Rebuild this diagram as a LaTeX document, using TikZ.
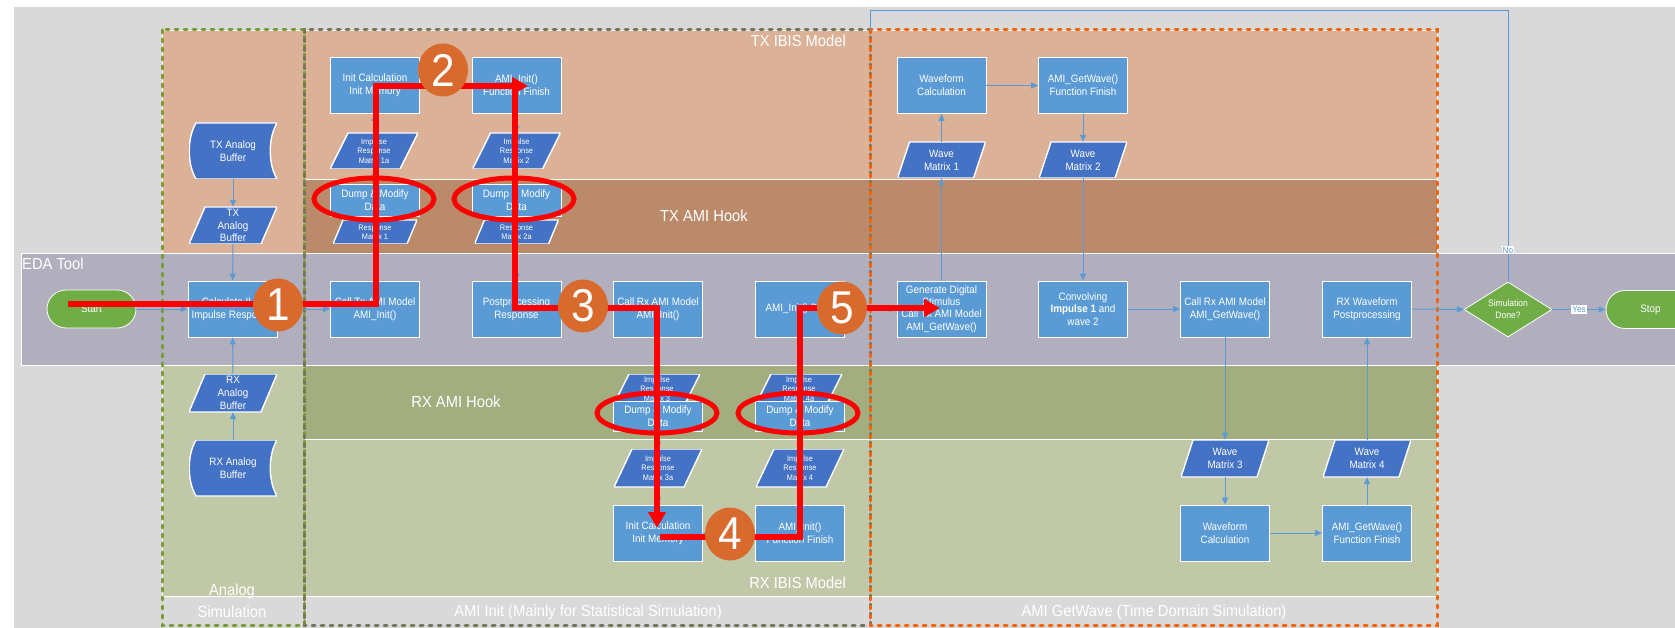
\documentclass[tikz,border=0pt]{standalone}
\usepackage{fontspec}
\setmainfont{Liberation Sans}[FakeStretch=0.92]
\usetikzlibrary{shapes.geometric,arrows.meta,calc}

\definecolor{bggray}{HTML}{D9D9D9}
\definecolor{edalane}{HTML}{B1AFBD}
\definecolor{txlane}{HTML}{DBB197}
\definecolor{txhook}{HTML}{BA8A6A}
\definecolor{rxhook}{HTML}{A2AD80}
\definecolor{rxlane}{HTML}{C0C8A7}
\definecolor{procblue}{HTML}{5B9BD5}
\definecolor{datablue}{HTML}{4472C4}
\definecolor{flowgreen}{HTML}{70AD47}
\definecolor{markorange}{HTML}{D96A2E}
\definecolor{linkblue}{HTML}{5B9BD5}
\definecolor{dashgreen}{HTML}{7A9A34}
\definecolor{dashgray}{HTML}{75755A}
\definecolor{dashorange}{HTML}{F0640A}

\newcommand\fs[2]{\fontsize{#1}{#2}\selectfont}

\begin{document}
\begin{tikzpicture}[x=1pt,y=-1pt,
  txt/.style={text=white, align=center, font=\fs{10.7}{12.8}},
  proc/.style={txt, rectangle, fill=procblue, draw=white, line width=0.8pt,
    minimum width=89pt, minimum height=56pt, inner sep=1pt},
  hookbox/.style={proc, minimum height=32pt},
  para/.style args={#1/#2/#3}{txt, rectangle, minimum width=#1pt, minimum height=#2pt, inner sep=0pt,
    path picture={\filldraw[fill=datablue, draw=white, line width=1.4pt]
      (path picture bounding box.south west)
      -- ($(path picture bounding box.north west)+(#3,0)$)
      -- (path picture bounding box.north east)
      -- ($(path picture bounding box.south east)+(-#3,0)$) -- cycle;}},
  smallpara/.style={para=#1, font=\fs{8}{9.3}},
  stored/.style={txt, rectangle, minimum width=88pt, minimum height=56pt, inner sep=0pt,
    path picture={\filldraw[fill=datablue, draw=white, line width=1.4pt]
      ($(path picture bounding box.north west)+(7,0)$)
      -- (path picture bounding box.north east)
      .. controls ($(path picture bounding box.north east)+(-9,15)$)
         and ($(path picture bounding box.south east)+(-9,-15)$)
      .. (path picture bounding box.south east)
      -- ($(path picture bounding box.south west)+(7,0)$)
      .. controls ($(path picture bounding box.south west)+(-2,-15)$)
         and ($(path picture bounding box.north west)+(-2,15)$)
      .. ($(path picture bounding box.north west)+(7,0)$) -- cycle;}},
  pill/.style={txt, rectangle, rounded corners=19pt, fill=flowgreen, draw=white,
    line width=0.8pt, minimum width=89pt, minimum height=38pt},
  decision/.style={txt, diamond, fill=flowgreen, draw=white, line width=0.8pt,
    minimum width=88pt, minimum height=55pt, inner sep=0pt, aspect=1.6, font=\fs{9.3}{12}},
  marker/.style={ellipse, fill=markorange, minimum width=50pt, minimum height=53pt,
    inner sep=0pt, text=white, font=\fs{46}{46}},
  ring/.style={ellipse, draw=red, line width=5pt, minimum width=120pt,
    minimum height=42pt, inner sep=0pt},
  link/.style={draw=linkblue, line width=1pt, -{Triangle[length=7pt,width=6pt]}},
  redflow/.style={draw=red, line width=5.5pt, -{Triangle[length=16pt,width=17pt]}},
  lanelabel/.style={text=white, font=\fs{16}{22}, inner sep=2pt, align=center},
  tag/.style={fill=white, text=linkblue, font=\fs{9}{10}, inner sep=1pt},
  phase/.style={line width=3pt, dash pattern=on 3pt off 6pt, line cap=round},
  lane/.style={draw=white, line width=0.8pt}
]
\useasboundingbox (0,0) rectangle (1675,628);
\fill[white] (0,0) rectangle (1675,628);
\fill[bggray] (14,7) rectangle (1675,628);

% swim lanes
\filldraw[lane, fill=txlane] (162,30) rectangle (304,253);
\filldraw[lane, fill=txlane] (304,30) rectangle (1437,179);
\filldraw[lane, fill=txhook] (304,179) rectangle (1437,253);
\filldraw[lane, fill=rxlane] (162,365) rectangle (304,596);
\filldraw[lane, fill=rxhook] (304,365) rectangle (1437,439);
\filldraw[lane, fill=rxlane] (304,439) rectangle (1437,596);
\filldraw[lane, fill=edalane] (21,253) rectangle (1690,365);

% lane and phase captions
\node[lanelabel, anchor=west] (edalbl) at (20,264) {EDA Tool};
\node[lanelabel, anchor=east] (txibislbl) at (848,41) {TX IBIS Model};
\node[lanelabel] (txhooklbl) at (704,216) {TX AMI Hook};
\node[lanelabel] (rxhooklbl) at (456,402) {RX AMI Hook};
\node[lanelabel, anchor=east] (rxibislbl) at (848,583) {RX IBIS Model};
\node[lanelabel] (analoglbl) at (232,601) {Analog\\Simulation};
\node[lanelabel] (initlbl) at (588,612) {AMI Init (Mainly for Statistical Simulation)};
\node[lanelabel] (gwlbl) at (1154,612) {AMI GetWave (Time Domain Simulation)};

% phase frames
\draw[phase, dashgreen] (162,30) rectangle (304,625);
\draw[phase, dashgray] (304,30) rectangle (870,625);
\draw[phase, dashorange] (870,30) rectangle (1437,625);

% analog simulation
\node[pill] (start) at (91.5,309) {Start};
\node[proc] (calc) at (232.5,309) {Calculate IL \&\\Impulse Response};
\node[stored] (txstore) at (233,151) {TX Analog\\Buffer};
\node[para=88/37/16] (txbuf) at (233,225.5) {TX\\Analog\\Buffer};
\node[para=88/38/16] (rxbuf) at (233,393) {RX\\Analog\\Buffer};
\node[stored] (rxstore) at (233,468) {RX Analog\\Buffer};

% AMI init, transmitter
\node[proc] (txinit) at (375,85.5) {Init Calculation\\Init Memory};
\node[smallpara=88/36/18] (irm1a) at (374,151) {Impulse\\Response\\Matrix 1a};
\node[hookbox] (dump1) at (375,200) {Dump \& Modify\\Data};
\node[smallpara=84/24/10] (rm1) at (375,232) {Response\\Matrix 1};
\node[proc] (calltx) at (375,309) {Call Tx AMI Model\\AMI\_Init()};

\node[proc] (txfin) at (516.5,85.5) {AMI\_Init()\\Function Finish};
\node[smallpara=88/36/18] (irm2) at (516.5,151) {Impulse\\Response\\Matrix 2};
\node[hookbox] (dump2) at (516.5,200) {Dump \& Modify\\Data};
\node[smallpara=84/24/10] (rm2a) at (516.5,232) {Response\\Matrix 2a};
\node[proc] (post) at (516.5,309) {Postprocessing\\Response};

% AMI init, receiver
\node[proc] (callrx) at (658,309) {Call Rx AMI Model\\AMI\_Init()};
\node[smallpara=86/30/15] (irm3) at (657,389) {Impulse\\Response\\Matrix 3};
\node[hookbox, minimum height=30pt] (dump3) at (658,416) {Dump \& Modify\\Data};
\node[smallpara=88/38/18] (irm3a) at (658,468) {Impulse\\Response\\Matrix 3a};
\node[proc] (rxinit) at (658,533) {Init Calculation\\Init Memory};

\node[proc] (initdone) at (800,309) {AMI\_Init() Done};
\node[smallpara=86/30/15] (irm4a) at (799,389) {Impulse\\Response\\Matrix 4a};
\node[hookbox, minimum height=30pt] (dump4) at (800,416) {Dump \& Modify\\Data};
\node[smallpara=88/38/18] (irm4) at (800,468) {Impulse\\Response\\Matrix 4};
\node[proc] (rxfin) at (800,533) {AMI\_Init()\\Function Finish};

% AMI GetWave
\node[proc] (wfcalc1) at (941.5,85.5) {Waveform\\Calculation};
\node[para=88/36/12] (wm1) at (941.5,160) {Wave\\Matrix 1};
\node[proc, font=\fs{10.7}{12.4}] (gendig) at (941.5,309) {Generate Digital\\Stimulus\\Call Tx AMI Model\\AMI\_GetWave()};

\node[proc] (gwfin1) at (1083,85.5) {AMI\_GetWave()\\Function Finish};
\node[para=88/36/12] (wm2) at (1083,160) {Wave\\Matrix 2};
\node[proc] (conv) at (1083,309) {Convolving\\\textbf{Impulse 1} and\\wave 2};

\node[proc] (callrxgw) at (1225,309) {Call Rx AMI Model\\AMI\_GetWave()};
\node[para=88/37/12] (wm3) at (1225,458.5) {Wave\\Matrix 3};
\node[proc] (wfcalc2) at (1225,533) {Waveform\\Calculation};

\node[proc] (rxpost) at (1367,309) {RX Waveform\\Postprocessing};
\node[para=88/37/12] (wm4) at (1367,458.5) {Wave\\Matrix 4};
\node[proc] (gwfin2) at (1367,533) {AMI\_GetWave()\\Function Finish};

\node[decision] (done) at (1508,309.5) {Simulation\\Done?};
\node[pill] (stop) at (1650.5,309.5) {Stop};

% flow connectors
\draw[link] (start) -- (calc);
\draw[link] (calc) -- (calltx);
\draw[link] (txstore) -- (txbuf);
\draw[link] (txbuf) -- (calc);
\draw[link] (rxstore) -- (rxbuf);
\draw[link] (rxbuf) -- (calc);
\draw[link] (calltx) -- (rm1);
\draw[link] (dump1) -- (irm1a);
\draw[link] (irm1a) -- (txinit);
\draw[link] (txinit) -- (txfin);
\draw[link] (txfin) -- (irm2);
\draw[link] (irm2) -- (dump2);
\draw[link] (rm2a) -- (post);
\draw[link] (post) -- (callrx);
\draw[link] (callrx) -- (irm3);
\draw[link] (dump3) -- (irm3a);
\draw[link] (irm3a) -- (rxinit);
\draw[link] (rxinit) -- (rxfin);
\draw[link] (rxfin) -- (irm4);
\draw[link] (irm4) -- (dump4);
\draw[link] (irm4a) -- (initdone);
\draw[link] (initdone) -- (gendig);
\draw[link] (gendig) -- (wm1);
\draw[link] (wm1) -- (wfcalc1);
\draw[link] (wfcalc1) -- (gwfin1);
\draw[link] (gwfin1) -- (wm2);
\draw[link] (wm2) -- (conv);
\draw[link] (conv) -- (callrxgw);
\draw[link] (callrxgw) -- (wm3);
\draw[link] (wm3) -- (wfcalc2);
\draw[link] (wfcalc2) -- (gwfin2);
\draw[link] (gwfin2) -- (wm4);
\draw[link] (wm4) -- (rxpost);
\draw[link] (rxpost) -- (done);
\draw[link] (done) -- (stop);
\node[tag] (yeslbl) at (1579,309.5) {Yes};
\coordinate (looptop) at (870,11);
\coordinate (loopend) at (870,30);
\draw[draw=linkblue, line width=1pt] (done.north) |- (looptop) -- (loopend);
\node[tag] (nolbl) at (1508,250) {No};

% highlighted hooks
\node[ring] (ring1) at (374,199) {};
\node[ring] (ring2) at (514,199) {};
\node[ring, minimum height=40pt] (ring3) at (657,413) {};
\node[ring, minimum height=40pt] (ring4) at (798,413) {};

% data path through the hooks
\coordinate (r1a) at (68,304);
\coordinate (r1b) at (376,304);
\coordinate (r1c) at (376,86);
\coordinate (r1d) at (528,86);
\coordinate (r2a) at (515,86);
\coordinate (r2b) at (515,308);
\coordinate (r2c) at (657,308);
\coordinate (r2d) at (657,528);
\coordinate (r3a) at (660,537);
\coordinate (r3b) at (800,537);
\coordinate (r3c) at (800,308);
\coordinate (r3d) at (940,308);
\draw[redflow] (r1a) -- (r1b) -- (r1c) -- (r1d);
\draw[redflow] (r2a) -- (r2b) -- (r2c) -- (r2d);
\draw[redflow] (r3a) -- (r3b) -- (r3c) -- (r3d);

% step markers
\node[marker] (m1) at (278,305) {1};
\node[marker] (m2) at (443,70) {2};
\node[marker] (m3) at (583,306) {3};
\node[marker] (m4) at (730,534) {4};
\node[marker] (m5) at (842,308) {5};
\end{tikzpicture}
\end{document}
